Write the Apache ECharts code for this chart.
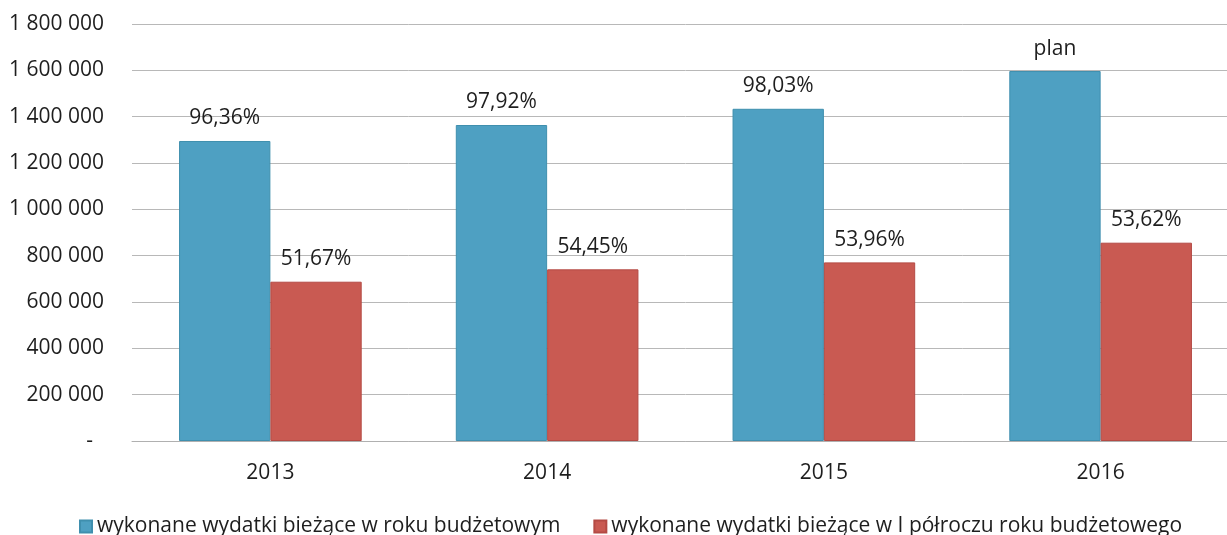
<!DOCTYPE html>
<html>
<head>
<meta charset="utf-8">
<script src="https://cdn.jsdelivr.net/npm/echarts@6/dist/echarts.min.js"></script>
<style>
html,body{margin:0;padding:0;background:#fff;overflow:hidden;}
#c{width:1239px;height:535px;}
</style>
</head>
<body>
<div id="c"></div>
<script>
const categories = ['2013', '2014', '2015', '2016'];
const seriesNames = ['wykonane wydatki bieżące w roku budżetowym', 'wykonane wydatki bieżące w I półroczu roku budżetowego'];
const yearValues = [1295000, 1364000, 1434000, 1597000];
const halfYearValues = [687600, 741000, 771000, 856000];
const yearLabels = ['96,36%', '97,92%', '98,03%', 'plan'];
const halfYearLabels = ['51,67%', '54,45%', '53,96%', '53,62%'];
const yMin = 0, yMax = 1800000, yInterval = 200000;

const FONT = 'Open Sans';
const TXT = '#1e1e1e';

function fmt(v) {
  if (v === 0) return '-  ';
  return String(v).replace(/\B(?=(\d{3})+(?!\d))/g, ' ');
}

const chart = echarts.init(document.getElementById('c'), null, {renderer: 'canvas'});
chart.setOption({
  backgroundColor: '#fff',
  animation: false,
  textStyle: {fontFamily: FONT, color: TXT},
  grid: {left: 132, right: 0, top: 24, bottom: 94, containLabel: false},
  legend: {
    left: 74, top: 511,
    itemWidth: 12, itemHeight: 12, itemGap: 33,
    icon: 'rect',
    textStyle: {fontFamily: FONT, fontSize: 21, color: TXT},
    data: seriesNames
  },
  xAxis: {
    type: 'category',
    data: categories,
    axisTick: {show: false},
    axisLine: {show: true, lineStyle: {color: '#b0b0b0', width: 1}},
    axisLabel: {fontFamily: FONT, fontSize: 21, color: TXT, margin: 22}
  },
  yAxis: {
    type: 'value',
    min: yMin, max: yMax, interval: yInterval,
    axisLine: {show: false},
    axisTick: {show: false},
    splitLine: {lineStyle: {color: '#b8b8b8', width: 1}},
    axisLabel: {fontFamily: FONT, fontSize: 21, color: TXT, margin: 28, formatter: fmt}
  },
  series: [
    {
      name: seriesNames[0], type: 'bar', data: yearValues,
      barWidth: '33%', barGap: '0%',
      itemStyle: {color: '#4ea0c2', borderColor: '#3f8fae', borderWidth: 1},
      label: {show: true, position: 'top', distance: 12, fontFamily: FONT, fontSize: 21, color: TXT,
        formatter: p => yearLabels[p.dataIndex]}
    },
    {
      name: seriesNames[1], type: 'bar', data: halfYearValues,
      barWidth: '33%', barGap: '0%',
      itemStyle: {color: '#c95a52', borderColor: '#b44a44', borderWidth: 1},
      label: {show: true, position: 'top', distance: 12, fontFamily: FONT, fontSize: 21, color: TXT,
        formatter: p => halfYearLabels[p.dataIndex]}
    }
  ]
});
</script>
</body>
</html>
